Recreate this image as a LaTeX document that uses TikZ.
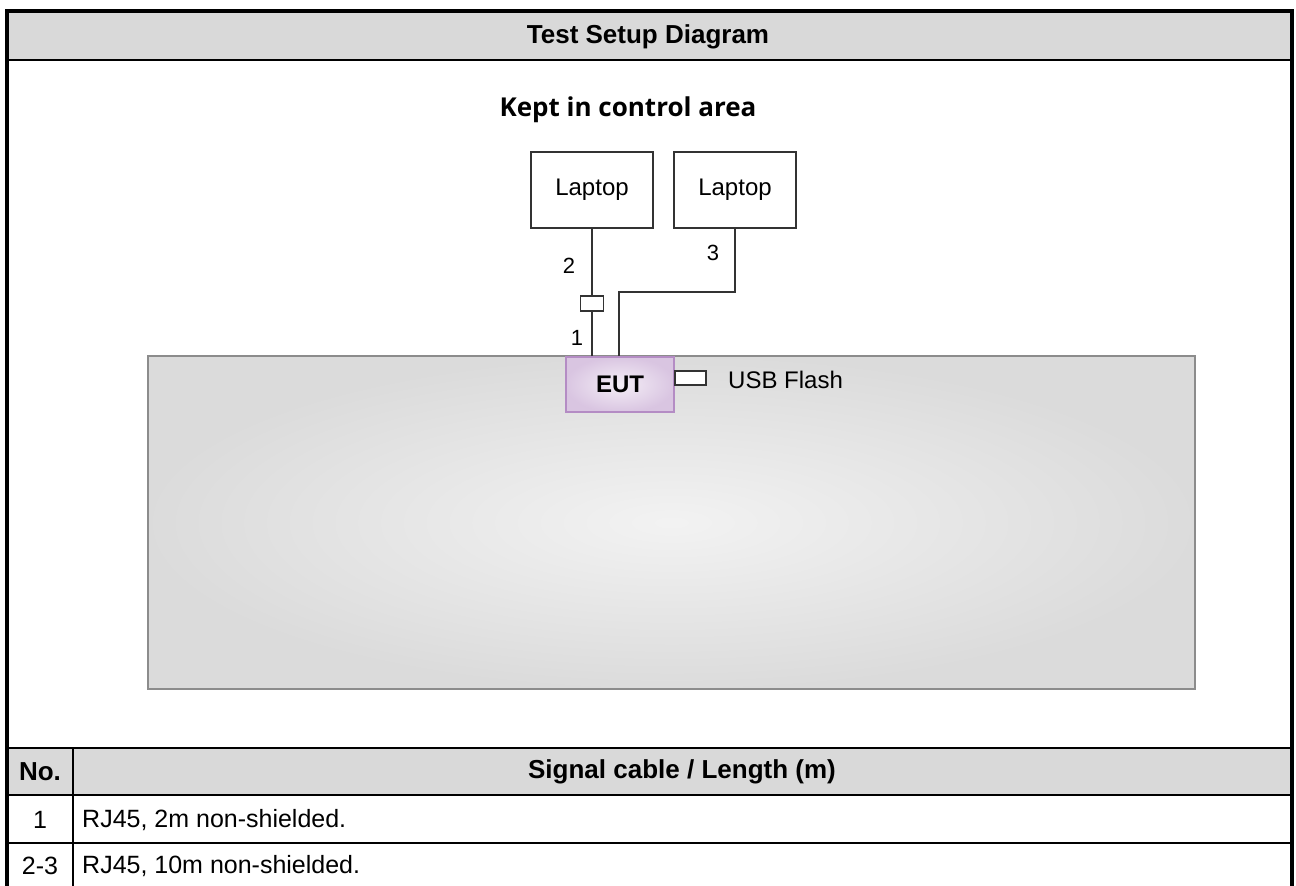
\documentclass[tikz,border=0pt]{standalone}
\usepackage{fontspec}
\setmainfont{Liberation Sans}
\newfontfamily\keptfont{Open Sans}
\usetikzlibrary{positioning}

\definecolor{headgray}{HTML}{D9D9D9}
\definecolor{wire}{HTML}{333333}
\definecolor{eutline}{HTML}{B48CC4}

\begin{document}
\begin{tikzpicture}[x=1pt, y=-1pt, node distance={19pt},
  laptop/.style = {draw=wire, line width=2pt, minimum width=122pt, minimum height=76pt, font=\fontsize{24}{28}\selectfont},
  eut/.style = {draw=eutline, line width=1.8pt, inner color=white!85!eutline, outer color=white!50!eutline, minimum width=108pt, minimum height=55pt, font=\bfseries\fontsize{24}{28}\selectfont},
  plug/.style = {draw=wire, fill=white, line width=1.8pt, inner sep=0pt},
  cablenum/.style = {font=\fontsize{22}{26}\selectfont, inner sep=0pt},
  cell/.style = {font=\fontsize{25}{29}\selectfont, inner sep=0pt},
  head/.style = {font=\bfseries\fontsize{26}{30}\selectfont, inner sep=0pt}]
\useasboundingbox (0,0) rectangle (1296,886);

% table frame
\fill[headgray] (7,11) rectangle (1292,60);
\fill[headgray] (7,748) rectangle (1292,795);
\draw[line width=2pt] (7,60) -- (1292,60);
\draw[line width=2pt] (7,748) -- (1292,748);
\draw[line width=2pt] (7,795) -- (1292,795);
\draw[line width=2pt] (7,843) -- (1292,843);
\draw[line width=2pt] (73,748) -- (73,886);
\draw[line width=4.5pt] (7,886) -- (7,11) -- (1292,11) -- (1292,886);

\node[head] (title) at (648,37) {Test Setup Diagram};
\node[head] (nohead) at (40,772) {No.};
\node[head] (cablehead) at (682,772) {Signal cable / Length (m)};
\node[cell] (no1) at (40,820) {1};
\node[cell, anchor=west] (row1) at (82,820) {RJ45, 2m non-shielded.};
\node[cell] (no2) at (40,866) {2-3};
\node[cell, anchor=west] (row2) at (82,866) {RJ45, 10m non-shielded.};

% setup
\node[draw=black!45, line width=2pt, inner color=black!5, outer color=black!14, minimum width=1047pt, minimum height=333pt] (area) at (671.5,522.5) {};
\node[font=\keptfont\bfseries\fontsize{26}{30}\selectfont, inner sep=0pt] (kept) at (628,110) {Kept in control area};

\node[laptop] (lap1) at (592,190) {Laptop};
\node[laptop] (lap2) [right=of lap1] {Laptop};
\node[eut] (eut) at (620,384.5) {EUT};
\node[plug, minimum width=23pt, minimum height=15pt] (rj) at (592,303.5) {};
\node[plug, minimum width=31pt, minimum height=14pt] (usb) at (690.5,378) {};
\node[font=\fontsize{24}{28}\selectfont, inner sep=0pt, anchor=west] (usbtext) at (728,380) {USB Flash};
\coordinate (bend) at (619,292);

\draw[wire, line width=1.8pt] (lap1.south) -- (rj.north);
\draw[wire, line width=1.8pt] (rj.south) -- (rj.south |- eut.north);
\draw[wire, line width=1.8pt] (lap2.south) |- (bend) -- (bend |- eut.north);

\node[cablenum] (n2) at (569,266) {2};
\node[cablenum] (n3) at (713,253) {3};
\node[cablenum] (n1) at (577,338) {1};
\end{tikzpicture}
\end{document}
